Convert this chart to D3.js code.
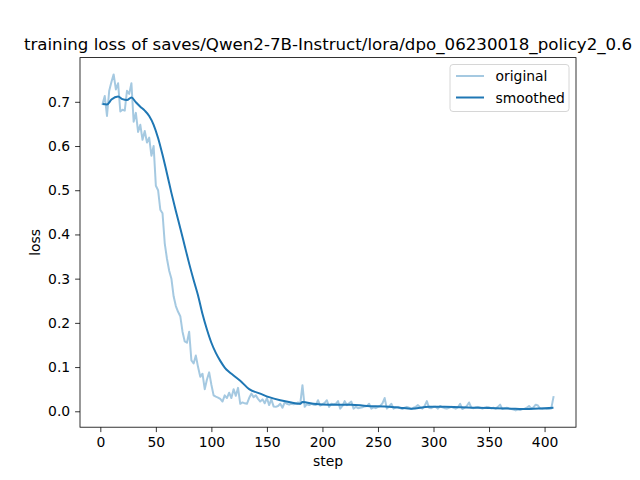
<!DOCTYPE html>
<html>
<head>
<meta charset="utf-8">
<script src="https://cdn.jsdelivr.net/npm/d3@7"></script>
<style>
  html, body { margin: 0; padding: 0; background: #fff; }
  svg text { font-family: "DejaVu Sans", sans-serif; }
</style>
</head>
<body>
<svg id="chart" width="640" height="480"></svg>
<script>
const titleText = "training loss of saves/Qwen2-7B-Instruct/lora/dpo_06230018_policy2_0.6";
const xLabel = "step";
const yLabel = "loss";
const seriesNames = ["original", "smoothed"];
const xTicks = [0, 50, 100, 150, 200, 250, 300, 350, 400];
const yTicks = [0.0, 0.1, 0.2, 0.3, 0.4, 0.5, 0.6, 0.7];

// original loss, logged every 2 steps from step 2 to step 408
const originalSteps = d3.range(2, 410, 2);
const originalLoss = [
  0.695, 0.713, 0.668, 0.725, 0.745, 0.762, 0.728, 0.742, 0.678, 0.682,
  0.680, 0.725, 0.718, 0.742, 0.655, 0.675, 0.632, 0.648, 0.614, 0.634,
  0.608, 0.619, 0.578, 0.600, 0.510, 0.500, 0.456, 0.448, 0.380, 0.345,
  0.318, 0.300, 0.260, 0.238, 0.225, 0.215, 0.180, 0.158, 0.155, 0.180,
  0.115, 0.108, 0.126, 0.100, 0.078, 0.085, 0.050, 0.072, 0.088, 0.060,
  0.036, 0.033, 0.031, 0.028, 0.022, 0.036, 0.030, 0.042, 0.030, 0.050,
  0.035, 0.053, 0.017, 0.020, 0.018, 0.017, 0.030, 0.040, 0.032, 0.036,
  0.028, 0.022, 0.027, 0.018, 0.030, 0.014, 0.027, 0.011, 0.010, 0.012,
  0.017, 0.008, 0.020, 0.017, 0.015, 0.017, 0.016, 0.017, 0.020, 0.017,
  0.059, 0.010, 0.016, 0.014, 0.017, 0.015, 0.014, 0.025, 0.013, 0.016,
  0.019, 0.025, 0.010, 0.017, 0.016, 0.017, 0.023, 0.006, 0.012, 0.023,
  0.014, 0.018, 0.022, 0.006, 0.010, 0.007, 0.008, 0.009, 0.011, 0.012,
  0.017, 0.006, 0.009, 0.007, 0.010, 0.012, 0.018, 0.030, 0.006, 0.011,
  0.017, 0.006, 0.009, 0.010, 0.007, 0.005, 0.008, 0.010, 0.008, 0.005,
  0.008, 0.010, 0.014, 0.009, 0.006, 0.012, 0.023, 0.008, 0.007, 0.010,
  0.010, 0.006, 0.012, 0.009, 0.007, 0.006, 0.008, 0.010, 0.008, 0.006,
  0.009, 0.017, 0.005, 0.008, 0.012, 0.020, 0.008, 0.007, 0.009, 0.010,
  0.008, 0.006, 0.008, 0.010, 0.009, 0.007, 0.008, 0.006, 0.010, 0.015,
  0.005, 0.007, 0.008, 0.006, 0.005, 0.004, 0.002, 0.004, 0.003, 0.005,
  0.006, 0.008, 0.012, 0.006, 0.009, 0.015, 0.013, 0.006, 0.005, 0.006,
  0.005, 0.005, 0.006, 0.032
];

// smoothed loss, read at selected steps
const smoothedSteps = [
  2, 6, 10, 16, 20, 24, 28, 32, 36, 40, 44, 48, 52, 56, 60, 64, 68, 72, 76, 80,
  84, 88, 92, 96, 100, 104, 108, 112, 116, 120, 126, 134, 144, 152, 162, 172, 180, 182, 192, 206,
  216, 226, 240, 256, 270, 280, 296, 310, 340, 370, 380, 400, 408
];
const smoothedLoss = [
  0.695, 0.694, 0.705, 0.712, 0.706, 0.704, 0.710, 0.699, 0.689, 0.680, 0.668, 0.648, 0.618, 0.580, 0.538, 0.494, 0.453, 0.414, 0.374, 0.334,
  0.297, 0.262, 0.220, 0.185, 0.155, 0.132, 0.114, 0.099, 0.089, 0.081, 0.069, 0.050, 0.040, 0.032, 0.025, 0.020, 0.017, 0.021, 0.017, 0.015,
  0.015, 0.015, 0.012, 0.011, 0.008, 0.006, 0.010, 0.010, 0.008, 0.006, 0.005, 0.007, 0.008
];

const baseColor = "#1f77b4";
const mLeft = 80, mRight = 576, mTop = 57.6, mBottom = 427.2;

const svg = d3.select("#chart");

const xMin = d3.min(originalSteps), xMax = d3.max(originalSteps);
const xPad = (xMax - xMin) * 0.05;
const yMin = d3.min(originalLoss), yMax = d3.max(originalLoss);
const yPad = (yMax - yMin) * 0.05;

const x = d3.scaleLinear().domain([xMin - xPad, xMax + xPad]).range([mLeft, mRight]);
const y = d3.scaleLinear().domain([yMin - yPad, yMax + yPad]).range([mBottom, mTop]);

const origData = originalSteps.map((s, i) => [s, originalLoss[i]]);
const smoothData = smoothedSteps.map((s, i) => [s, smoothedLoss[i]]);

svg.append("defs").append("clipPath").attr("id", "clip")
  .append("rect").attr("x", mLeft).attr("y", mTop).attr("width", mRight - mLeft).attr("height", mBottom - mTop);

const line = d3.line().x(d => x(d[0])).y(d => y(d[1]));
const smoothLine = d3.line().x(d => x(d[0])).y(d => y(d[1])).curve(d3.curveMonotoneX);

const g = svg.append("g").attr("clip-path", "url(#clip)");
g.append("path").datum(origData)
  .attr("d", line).attr("fill", "none")
  .attr("stroke", baseColor).attr("stroke-opacity", 0.4)
  .attr("stroke-width", 2).attr("stroke-linejoin", "round").attr("stroke-linecap", "square");
g.append("path").datum(smoothData)
  .attr("d", smoothLine).attr("fill", "none")
  .attr("stroke", baseColor).attr("stroke-width", 2).attr("stroke-linejoin", "round");

// axes
const xAxis = d3.axisBottom(x).tickValues(xTicks).tickFormat(d3.format("d")).tickSize(4.9).tickPadding(4.9);
const yAxis = d3.axisLeft(y).tickValues(yTicks).tickFormat(d3.format(".1f")).tickSize(4.9).tickPadding(4.9);

const gx = svg.append("g").attr("transform", `translate(0,${mBottom})`).call(xAxis);
const gy = svg.append("g").attr("transform", `translate(${mLeft},0)`).call(yAxis);
[gx, gy].forEach(ax => {
  ax.select(".domain").remove();
  ax.selectAll(".tick line").attr("stroke", "#000").attr("stroke-width", 0.8);
  ax.selectAll(".tick text").attr("fill", "#000").style("font-size", "13.9px")
    .style("font-family", "'DejaVu Sans', sans-serif");
});

// frame
svg.append("rect").attr("x", mLeft).attr("y", mTop).attr("width", mRight - mLeft).attr("height", mBottom - mTop)
  .attr("fill", "none").attr("stroke", "#000").attr("stroke-width", 0.8);

// title and labels
svg.append("text").attr("x", (mLeft + mRight) / 2).attr("y", 49.5).attr("text-anchor", "middle")
  .style("font-size", "16.67px").attr("fill", "#000").text(titleText);
svg.append("text").attr("x", (mLeft + mRight) / 2).attr("y", 466).attr("text-anchor", "middle")
  .style("font-size", "13.9px").attr("fill", "#000").text(xLabel);
svg.append("text").attr("transform", `translate(40,${(mTop + mBottom) / 2}) rotate(-90)`).attr("text-anchor", "middle")
  .style("font-size", "13.9px").attr("fill", "#000").text(yLabel);

// legend
const lg = svg.append("g");
lg.append("rect").attr("x", 450).attr("y", 64.5).attr("width", 119).attr("height", 47).attr("rx", 3)
  .attr("fill", "#fff").attr("fill-opacity", 0.8).attr("stroke", "#cccccc").attr("stroke-width", 0.8);
const legendItems = [
  { name: seriesNames[0], opacity: 0.4 },
  { name: seriesNames[1], opacity: 1 }
];
legendItems.forEach((it, i) => {
  const yy = 76 + i * 21.5;
  lg.append("line").attr("x1", 456).attr("x2", 484).attr("y1", yy).attr("y2", yy)
    .attr("stroke", baseColor).attr("stroke-opacity", it.opacity).attr("stroke-width", 2);
  lg.append("text").attr("x", 495.5).attr("y", yy + 5).style("font-size", "13.9px").attr("fill", "#000").text(it.name);
});
</script>
</body>
</html>
